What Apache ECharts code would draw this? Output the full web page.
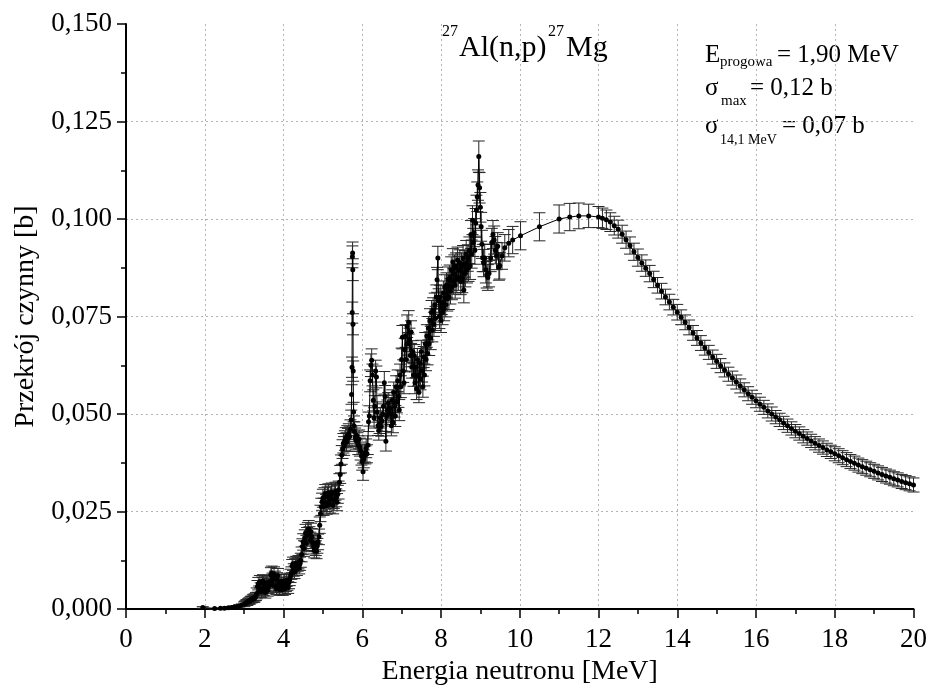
<!DOCTYPE html>
<html><head><meta charset="utf-8">
<script src="https://cdn.jsdelivr.net/npm/echarts@6/dist/echarts.min.js"></script>
<style>html,body{margin:0;padding:0;background:#fff}#chart{width:930px;height:691px}</style>
</head><body><div id="chart"></div>
<script>
// ---- Region 1: threshold to 5.4 MeV ----
const energyLow = [1.95, 2.25, 2.40, 2.50, 2.60, 2.68, 2.75, 2.82, 2.88, 2.94,
 3.00, 3.02, 3.04, 3.06, 3.08, 3.10, 3.12, 3.14, 3.16, 3.18, 3.20, 3.22, 3.24, 3.26, 3.28, 3.30,
 3.32, 3.34, 3.36, 3.38, 3.40, 3.42, 3.44, 3.46, 3.48, 3.50, 3.52, 3.54, 3.56, 3.58, 3.60, 3.62, 3.64,
 3.66, 3.68, 3.70, 3.72, 3.74, 3.76, 3.78, 3.80, 3.82, 3.84, 3.86, 3.88, 3.90, 3.92, 3.94, 3.96,
 3.98, 4.00, 4.02, 4.04, 4.06, 4.08, 4.10, 4.12, 4.14, 4.16, 4.18,
 4.20, 4.22, 4.24, 4.26, 4.28, 4.30, 4.32, 4.34, 4.36, 4.38, 4.40, 4.42, 4.44,
 4.46, 4.48, 4.50, 4.52, 4.54, 4.56, 4.58, 4.60, 4.62, 4.64, 4.66, 4.68, 4.70, 4.72, 4.74,
 4.76, 4.78, 4.80, 4.82, 4.84, 4.86, 4.88, 4.90, 4.92,
 4.94, 4.96, 4.98, 5.00, 5.02, 5.04, 5.06, 5.08, 5.10, 5.12, 5.14, 5.16, 5.18, 5.20, 5.22, 5.24, 5.26, 5.28, 5.30, 5.32, 5.34, 5.36, 5.38, 5.40];
const sigmaLow = [0.0004, 0.0001, 0.0002, 0.0002, 0.0003, 0.0004, 0.0005, 0.0006, 0.0008, 0.0010,
 0.0012, 0.0014, 0.0015, 0.0017, 0.0016, 0.0019, 0.0021, 0.0020, 0.0023, 0.0025, 0.0024, 0.0027, 0.0029, 0.0026, 0.0030, 0.0032,
 0.0040, 0.0058, 0.0065, 0.0045, 0.0070, 0.0052, 0.0044, 0.0066, 0.0072, 0.0050, 0.0060, 0.0042, 0.0064, 0.0068, 0.0048, 0.0055, 0.0062,
 0.0070, 0.0088, 0.0092, 0.0075, 0.0060, 0.0090, 0.0080, 0.0058, 0.0052, 0.0076, 0.0086, 0.0064, 0.0050, 0.0060, 0.0072, 0.0056,
 0.0050, 0.0066, 0.0072, 0.0052, 0.0060, 0.0074, 0.0064, 0.0055, 0.0068, 0.0076, 0.0085,
 0.0092, 0.0110, 0.0116, 0.0100, 0.0094, 0.0112, 0.0118, 0.0102, 0.0114, 0.0120, 0.0106, 0.0116, 0.0125,
 0.0140, 0.0160, 0.0172, 0.0155, 0.0182, 0.0195, 0.0168, 0.0188, 0.0200, 0.0205, 0.0190, 0.0176, 0.0198, 0.0185, 0.0170,
 0.0160, 0.0150, 0.0168, 0.0156, 0.0148, 0.0162, 0.0172, 0.0185, 0.0215,
 0.0245, 0.0262, 0.0275, 0.0284, 0.0262, 0.0288, 0.0296, 0.0272, 0.0265, 0.0290, 0.0298, 0.0278, 0.0268, 0.0292, 0.0300, 0.0282, 0.0266, 0.0280, 0.0296, 0.0302, 0.0285, 0.0274, 0.0294, 0.0305];
const errLow = [0.0002, 0.0001, 0.0001, 0.0001, 0.0002, 0.0002, 0.0002, 0.0003, 0.0003, 0.0003,
 0.0006, 0.0006, 0.0006, 0.0007, 0.0007, 0.0007, 0.0007, 0.0008, 0.0008, 0.0008, 0.0008, 0.0009, 0.0009, 0.0009, 0.0009, 0.0010,
 0.0014, 0.0015, 0.0016, 0.0014, 0.0016, 0.0015, 0.0014, 0.0016, 0.0016, 0.0015, 0.0015, 0.0014, 0.0016, 0.0016, 0.0015, 0.0015, 0.0016,
 0.0016, 0.0018, 0.0018, 0.0017, 0.0016, 0.0018, 0.0017, 0.0016, 0.0015, 0.0017, 0.0018, 0.0016, 0.0015, 0.0016, 0.0017, 0.0015,
 0.0015, 0.0016, 0.0016, 0.0015, 0.0015, 0.0016, 0.0016, 0.0015, 0.0016, 0.0016, 0.0017,
 0.0016, 0.0017, 0.0017, 0.0016, 0.0016, 0.0017, 0.0017, 0.0016, 0.0017, 0.0017, 0.0016, 0.0017, 0.0018,
 0.0019, 0.0020, 0.0021, 0.0020, 0.0021, 0.0022, 0.0021, 0.0021, 0.0022, 0.0022, 0.0021, 0.0021, 0.0022, 0.0021, 0.0020,
 0.0019, 0.0019, 0.0020, 0.0019, 0.0019, 0.0019, 0.0020, 0.0020, 0.0021,
 0.0021, 0.0022, 0.0022, 0.0023, 0.0022, 0.0023, 0.0023, 0.0022, 0.0022, 0.0023, 0.0023, 0.0022, 0.0022, 0.0023, 0.0023, 0.0023, 0.0022, 0.0022, 0.0023, 0.0023, 0.0023, 0.0022, 0.0023, 0.0023];

// ---- Region 2: resonance region 5.4 - 9.5 MeV ----
const energyRes = [5.42, 5.44, 5.46, 5.48, 5.50, 5.52, 5.54, 5.56, 5.58, 5.60, 5.62, 5.64, 5.66, 5.68, 5.70,
 5.72, 5.73, 5.74, 5.745, 5.75, 5.755, 5.76, 5.765, 5.77, 5.78, 5.79, 5.80,
 5.82, 5.84, 5.86, 5.88, 5.90, 5.92, 5.94, 5.96, 5.98, 6.00, 6.02, 6.04, 6.06, 6.08, 6.10, 6.12, 6.14,
 6.16, 6.18, 6.20, 6.22, 6.24, 6.26, 6.28, 6.30, 6.32, 6.34, 6.36, 6.38, 6.40,
 6.42, 6.44, 6.46, 6.48, 6.50, 6.52, 6.54, 6.56, 6.58, 6.60, 6.62, 6.64, 6.66, 6.68, 6.70,
 6.72, 6.74, 6.76, 6.78, 6.80, 6.82, 6.84, 6.86, 6.88, 6.90,
 6.92, 6.94, 6.96, 6.98, 7.00, 7.02, 7.04, 7.06, 7.08, 7.10,
 7.12, 7.14, 7.16, 7.18, 7.20, 7.22, 7.24, 7.26, 7.28, 7.30,
 7.32, 7.34, 7.36, 7.38, 7.40, 7.42, 7.44, 7.46, 7.48, 7.50,
 7.52, 7.54, 7.56, 7.58, 7.60, 7.62, 7.64, 7.66, 7.68, 7.70,
 7.72, 7.74, 7.76, 7.78, 7.80, 7.82, 7.84, 7.86, 7.88, 7.90,
 7.92, 7.94, 7.96, 7.98, 8.00, 8.02, 8.04, 8.06, 8.08, 8.10,
 8.12, 8.14, 8.16, 8.18, 8.20, 8.22, 8.24, 8.26, 8.28, 8.30,
 8.32, 8.34, 8.36, 8.38, 8.40, 8.42, 8.44, 8.46, 8.48, 8.50,
 8.52, 8.54, 8.56, 8.58, 8.60, 8.62, 8.64, 8.66, 8.68, 8.70,
 8.72, 8.74, 8.76, 8.78, 8.80, 8.82, 8.84, 8.86, 8.88, 8.90,
 8.92, 8.94, 8.96, 8.98,
 9.00, 9.02, 9.04, 9.06, 9.08, 9.11, 9.14, 9.16, 9.19, 9.22, 9.26, 9.29, 9.32, 9.35, 9.38, 9.41, 9.44, 9.47, 9.49];
const sigmaRes = [0.0325, 0.0345, 0.0372, 0.0395, 0.0410, 0.0425, 0.0418, 0.0432, 0.0440, 0.0428, 0.0445, 0.0438, 0.0450, 0.0442, 0.0460,
 0.0485, 0.0550, 0.0620, 0.0760, 0.0903, 0.0913, 0.0870, 0.0730, 0.0610, 0.0505, 0.0470, 0.0455,
 0.0440, 0.0432, 0.0445, 0.0428, 0.0420, 0.0435, 0.0415, 0.0405, 0.0392, 0.0378, 0.0352, 0.0385, 0.0400, 0.0395, 0.0412, 0.0398, 0.0420,
 0.0480, 0.0495, 0.0585, 0.0625, 0.0638, 0.0600, 0.0535, 0.0490, 0.0520, 0.0610, 0.0595, 0.0505, 0.0470,
 0.0458, 0.0475, 0.0490, 0.0468, 0.0482, 0.0500, 0.0520, 0.0580, 0.0545, 0.0430, 0.0495, 0.0510, 0.0528, 0.0505, 0.0515,
 0.0500, 0.0470, 0.0535, 0.0478, 0.0555, 0.0520, 0.0495, 0.0570, 0.0530, 0.0585,
 0.0545, 0.0510, 0.0600, 0.0570, 0.0640, 0.0697, 0.0610, 0.0580, 0.0665, 0.0700,
 0.0640, 0.0725, 0.0680, 0.0735, 0.0690, 0.0650, 0.0710, 0.0620, 0.0660, 0.0600,
 0.0650, 0.0580, 0.0620, 0.0565, 0.0640, 0.0600, 0.0556, 0.0630, 0.0590, 0.0660,
 0.0610, 0.0570, 0.0646, 0.0600, 0.0680, 0.0640, 0.0700, 0.0655, 0.0720, 0.0680,
 0.0740, 0.0695, 0.0760, 0.0715, 0.0767, 0.0730, 0.0780, 0.0745, 0.0800, 0.0844,
 0.0900, 0.0790, 0.0750, 0.0800, 0.0740, 0.0785, 0.0760, 0.0810, 0.0770, 0.0825,
 0.0780, 0.0830, 0.0795, 0.0845, 0.0800, 0.0850, 0.0815, 0.0870, 0.0825, 0.0890,
 0.0840, 0.0875, 0.0830, 0.0880, 0.0845, 0.0895, 0.0850, 0.0870, 0.0887, 0.0840,
 0.0880, 0.0845, 0.0900, 0.0818, 0.0885, 0.0860, 0.0910, 0.0870, 0.0900, 0.0875,
 0.0920, 0.0880, 0.0960, 0.0910, 0.0997, 0.0940, 0.0965, 0.0920, 0.0990, 0.1023,
 0.1057, 0.1087, 0.1160, 0.1080,
 0.1030, 0.0980, 0.0935, 0.0900, 0.0887, 0.0900, 0.0870, 0.0857, 0.0850, 0.0860, 0.0900, 0.0940, 0.0960, 0.0946, 0.0920, 0.0905, 0.0930, 0.0877, 0.0880];
const errRes = [0.0022, 0.0023, 0.0023, 0.0024, 0.0024, 0.0025, 0.0024, 0.0025, 0.0025, 0.0024, 0.0025, 0.0025, 0.0025, 0.0025, 0.0025,
 0.0025, 0.0025, 0.0026, 0.0027, 0.0028, 0.0028, 0.0028, 0.0027, 0.0026, 0.0025, 0.0025, 0.0025,
 0.0024, 0.0024, 0.0025, 0.0024, 0.0024, 0.0024, 0.0023, 0.0023, 0.0023, 0.0022, 0.0022, 0.0023, 0.0023, 0.0023, 0.0024, 0.0023, 0.0024,
 0.0025, 0.0026, 0.0028, 0.0029, 0.0029, 0.0028, 0.0027, 0.0026, 0.0027, 0.0028, 0.0028, 0.0026, 0.0025,
 0.0025, 0.0025, 0.0026, 0.0025, 0.0026, 0.0026, 0.0027, 0.0029, 0.0028, 0.0025, 0.0026, 0.0026, 0.0027, 0.0026, 0.0027,
 0.0027, 0.0026, 0.0027, 0.0026, 0.0027, 0.0028, 0.0027, 0.0028, 0.0027, 0.0028,
 0.0028, 0.0027, 0.0028, 0.0028, 0.0029, 0.0030, 0.0029, 0.0028, 0.0029, 0.0029,
 0.0030, 0.0029, 0.0029, 0.0030, 0.0030, 0.0029, 0.0029, 0.0028, 0.0028, 0.0029,
 0.0028, 0.0028, 0.0027, 0.0028, 0.0028, 0.0028, 0.0027, 0.0028, 0.0028, 0.0029,
 0.0028, 0.0027, 0.0027, 0.0028, 0.0029, 0.0029, 0.0029, 0.0029, 0.0030, 0.0030,
 0.0030, 0.0030, 0.0031, 0.0030, 0.0031, 0.0031, 0.0030, 0.0031, 0.0031, 0.0032,
 0.0030, 0.0031, 0.0031, 0.0030, 0.0031, 0.0030, 0.0031, 0.0031, 0.0031, 0.0032,
 0.0031, 0.0032, 0.0031, 0.0032, 0.0032, 0.0032, 0.0033, 0.0033, 0.0032, 0.0034,
 0.0033, 0.0033, 0.0033, 0.0033, 0.0034, 0.0033, 0.0033, 0.0034, 0.0034, 0.0034,
 0.0033, 0.0034, 0.0032, 0.0033, 0.0034, 0.0034, 0.0035, 0.0034, 0.0034, 0.0035,
 0.0034, 0.0035, 0.0036, 0.0036, 0.0037, 0.0036, 0.0036, 0.0036, 0.0037, 0.0038,
 0.0038, 0.0039, 0.0040, 0.0039,
 0.0038, 0.0037, 0.0036, 0.0035, 0.0035, 0.0035, 0.0034, 0.0034, 0.0033, 0.0034, 0.0035, 0.0036, 0.0036, 0.0036, 0.0035, 0.0035, 0.0035, 0.0034, 0.0034];

// ---- Region 3: smooth region 9.5 - 20 MeV ----
const energyHigh = [9.55, 9.62, 9.72, 9.82, 10.02, 10.50, 11.00, 11.27, 11.50, 11.75, 12.00,
 12.1, 12.2, 12.3, 12.4, 12.5, 12.6, 12.7, 12.8, 12.9,
 13.0, 13.1, 13.2, 13.3, 13.4, 13.5, 13.6, 13.7, 13.8, 13.9,
 14.0, 14.1, 14.2, 14.3, 14.4, 14.5, 14.6, 14.7, 14.8, 14.9,
 15.0, 15.1, 15.2, 15.3, 15.4, 15.5, 15.6, 15.7, 15.8, 15.9,
 16.0, 16.1, 16.2, 16.3, 16.4, 16.5, 16.6, 16.7, 16.8, 16.9,
 17.0, 17.1, 17.2, 17.3, 17.4, 17.5, 17.6, 17.7, 17.8, 17.9,
 18.0, 18.1, 18.2, 18.3, 18.4, 18.5, 18.6, 18.7, 18.8, 18.9,
 19.0, 19.1, 19.2, 19.3, 19.4, 19.5, 19.6, 19.7, 19.8, 19.9, 20.0];
const sigmaHigh = [0.0905, 0.0926, 0.0938, 0.0946, 0.0957, 0.0980, 0.1000, 0.1005, 0.1008, 0.1008, 0.1005,
 0.1002, 0.0998, 0.0992, 0.0983, 0.0974, 0.0961, 0.0947, 0.0932, 0.0916,
 0.0901, 0.0887, 0.0874, 0.0860, 0.0845, 0.0830, 0.0815, 0.0800, 0.0787, 0.0774,
 0.0761, 0.0748, 0.0735, 0.0722, 0.0708, 0.0695, 0.0682, 0.0670, 0.0658, 0.0646,
 0.0635, 0.0624, 0.0613, 0.0602, 0.0592, 0.0582, 0.0572, 0.0562, 0.0552, 0.0543,
 0.0534, 0.0525, 0.0517, 0.0508, 0.0500, 0.0492, 0.0485, 0.0477, 0.0470, 0.0463,
 0.0456, 0.0450, 0.0443, 0.0437, 0.0431, 0.0425, 0.0419, 0.0414, 0.0408, 0.0403,
 0.0398, 0.0393, 0.0388, 0.0383, 0.0378, 0.0374, 0.0369, 0.0365, 0.0361, 0.0357,
 0.0353, 0.0349, 0.0345, 0.0341, 0.0338, 0.0334, 0.0331, 0.0327, 0.0324, 0.0321, 0.0318];
const errHigh = [0.0034, 0.0034, 0.0035, 0.0035, 0.0036, 0.0036, 0.0036, 0.0035, 0.0033, 0.0030, 0.0027,
 0.0026, 0.0025, 0.0024, 0.0024, 0.0023, 0.0023, 0.0022, 0.0022, 0.0022,
 0.0022, 0.0021, 0.0021, 0.0021, 0.0021, 0.0020, 0.0020, 0.0020, 0.0020, 0.0020,
 0.0020, 0.0019, 0.0019, 0.0019, 0.0019, 0.0019, 0.0019, 0.0019, 0.0018, 0.0018,
 0.0018, 0.0018, 0.0018, 0.0018, 0.0018, 0.0018, 0.0018, 0.0018, 0.0018, 0.0018,
 0.0018, 0.0018, 0.0018, 0.0018, 0.0018, 0.0017, 0.0017, 0.0017, 0.0017, 0.0017,
 0.0017, 0.0017, 0.0017, 0.0017, 0.0017, 0.0017, 0.0017, 0.0017, 0.0017, 0.0017,
 0.0018, 0.0018, 0.0018, 0.0018, 0.0018, 0.0018, 0.0018, 0.0018, 0.0018, 0.0018,
 0.0018, 0.0018, 0.0018, 0.0018, 0.0018, 0.0018, 0.0018, 0.0018, 0.0018, 0.0018, 0.0018];

// ---- Axis ticks ----
const xTicks = {min: 0, max: 20, step: 2};
const yTicks = {min: 0, max: 0.150, step: 0.025};

const FONT = '"Liberation Serif","Times New Roman",serif';

const energy = [].concat(energyLow, energyRes, energyHigh);
const sigma = [].concat(sigmaLow, sigmaRes, sigmaHigh);
const sigmaErr = [].concat(errLow, errRes, errHigh);

const pointData = energy.map((e, i) => [e, sigma[i]]);
const errData = energy.map((e, i) => [e, sigma[i] - sigmaErr[i], sigma[i] + sigmaErr[i]]);

const chart = echarts.init(document.getElementById('chart'), null, {renderer: 'canvas'});

function txt(x, y, text, size) {
  return {type: 'text', x: x, y: y, silent: true,
    style: {text: text, font: size + 'px ' + FONT, fill: '#000',
            textAlign: 'left', textVerticalAlign: 'middle', align: 'left', verticalAlign: 'middle'}};
}

const axisCommon = {
  axisLine: {show: true, onZero: false, lineStyle: {color: '#000', width: 2}},
  axisTick: {show: true, inside: false, length: 9, lineStyle: {color: '#000', width: 1.5}},
  minorTick: {show: true, splitNumber: 2, length: 5, lineStyle: {color: '#000', width: 1.5}},
  splitLine: {show: true, showMinLine: false, showMaxLine: false,
              lineStyle: {color: '#b4b4b4', width: 1, type: [2, 3]}},
  nameTextStyle: {fontFamily: FONT, fontSize: 28, color: '#000'}
};

const option = {
  animation: false,
  backgroundColor: '#fff',
  grid: {left: 126, right: 16, top: 24, bottom: 82, containLabel: false},
  xAxis: Object.assign({}, axisCommon, {
    type: 'value', min: xTicks.min, max: xTicks.max, interval: xTicks.step,
    name: 'Energia neutronu [MeV]', nameLocation: 'middle', nameGap: 42,
    axisLabel: {fontFamily: FONT, fontSize: 27, color: '#000', margin: 17}
  }),
  yAxis: Object.assign({}, axisCommon, {
    type: 'value', min: yTicks.min, max: yTicks.max, interval: yTicks.step,
    name: 'Przekrój czynny [b]', nameLocation: 'middle', nameGap: 86, nameRotate: 90,
    axisLabel: {fontFamily: FONT, fontSize: 27, color: '#000', margin: 14,
                formatter: v => v.toFixed(3).replace('.', ',')}
  }),
  series: [
    {
      type: 'custom', name: 'err', z: 2, silent: true,
      data: errData,
      encode: {x: 0, y: [1, 2]},
      renderItem: function (params, api) {
        const x = api.value(0);
        const top = api.coord([x, api.value(2)]);
        const bot = api.coord([x, api.value(1)]);
        const hw = 6;
        const st = {stroke: '#262626', lineWidth: 1};
        return {type: 'group', children: [
          {type: 'line', shape: {x1: top[0], y1: top[1], x2: bot[0], y2: bot[1]}, style: st},
          {type: 'line', shape: {x1: top[0] - hw, y1: top[1], x2: top[0] + hw, y2: top[1]}, style: st},
          {type: 'line', shape: {x1: bot[0] - hw, y1: bot[1], x2: bot[0] + hw, y2: bot[1]}, style: st}
        ]};
      }
    },
    {
      type: 'line', name: 'sigma', z: 3, silent: true,
      data: pointData,
      showSymbol: true, showAllSymbol: true,
      symbol: 'circle', symbolSize: 5,
      itemStyle: {color: '#000'},
      lineStyle: {color: '#000', width: 1}
    }
  ],
  graphic: [
    txt(442, 32, '27', 16),
    txt(459, 48, 'Al(n,p)', 30),
    txt(548, 32, '27', 16),
    txt(566, 48, 'Mg', 30),
    txt(705, 55, 'E', 25),
    txt(720, 62, 'progowa', 15),
    txt(777, 55, '= 1,90 MeV', 25),
    txt(705, 88, 'σ', 25),
    txt(721, 101, 'max', 15),
    txt(750, 88, '= 0,12 b', 25),
    txt(705, 126, 'σ', 25),
    txt(720, 140, '14,1 MeV', 14),
    txt(782, 126, '= 0,07 b', 25)
  ]
};
chart.setOption(option);
</script>
</body></html>
